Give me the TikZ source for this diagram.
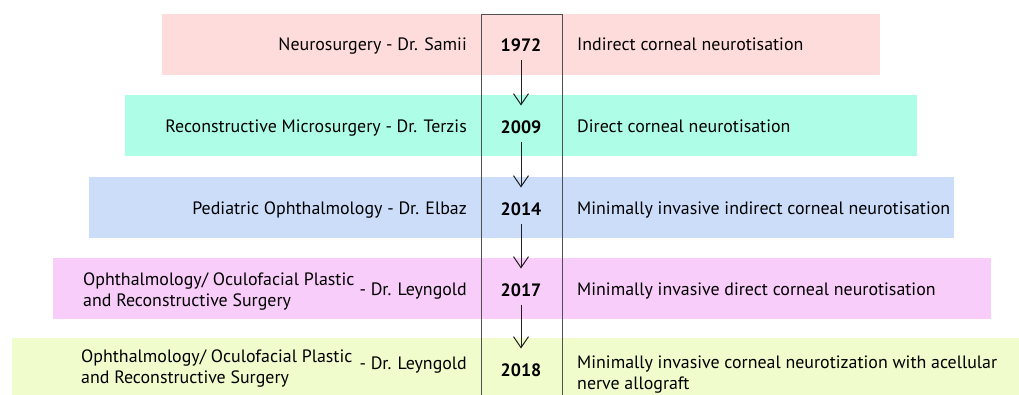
\documentclass[tikz,border=0pt]{standalone}
\usepackage{fontspec}
\setmainfont{PT Sans}
\usetikzlibrary{arrows.meta}
\definecolor{cPink}{RGB}{255,220,220}
\definecolor{cMint}{RGB}{174,253,230}
\definecolor{cBlue}{RGB}{204,221,250}
\definecolor{cMagenta}{RGB}{249,205,249}
\definecolor{cLime}{RGB}{241,252,204}
\definecolor{cFrame}{RGB}{80,80,80}
\definecolor{cArrow}{RGB}{30,30,30}
\begin{document}
\begin{tikzpicture}[x=1pt,y=-1pt,
  band/.style={rectangle, draw=none, inner sep=0pt, outer sep=0pt, anchor=north west, minimum height=61pt},
  txt/.style={inner sep=0pt, font=\fontsize{17.9}{21}\selectfont, text=black},
  lefttxt/.style={txt, anchor=mid east},
  righttxt/.style={txt, anchor=mid west},
  twoline/.style={txt, align=left, anchor=west},
  yeartxt/.style={txt, anchor=mid, font=\fontsize{17.9}{21}\selectfont\bfseries},
  arr/.style={draw=cArrow, line width=1pt, -{Straight Barb[length=11pt,width=15pt,line width=1pt]}, shorten <=8pt, shorten >=15pt}
]
\useasboundingbox (0,0) rectangle (1019,394);
\clip (0,0) rectangle (1019,394);
% bands
\node[band, fill=cPink, minimum width=718pt] (b1) at (162,14) {};
\node[band, fill=cMint, minimum width=792pt] (b2) at (125,95) {};
\node[band, fill=cBlue, minimum width=865pt] (b3) at (89,177) {};
\node[band, fill=cMagenta, minimum width=938pt] (b4) at (53,258) {};
\node[band, fill=cLime, minimum width=1018pt, minimum height=62pt] (b5) at (12,338) {};
% frame
\node[rectangle, draw=cFrame, line width=0.9pt, inner sep=0pt, anchor=north west, minimum width=81pt, minimum height=420pt] (frame) at (481,14) {};
% left texts
\node[lefttxt] (l1) at (467,48) {Neurosurgery - Dr. Samii};
\node[lefttxt] (l2) at (467,130) {Reconstructive Microsurgery - Dr. Terzis};
\node[lefttxt] (l3) at (467,212) {Pediatric Ophthalmology - Dr. Elbaz};
\node[twoline] (l4a) at (83,292) {Ophthalmology/ Oculofacial Plastic\\and Reconstructive Surgery};
\node[lefttxt] (l4b) at (467,293) {- Dr. Leyngold};
\node[twoline] (l5a) at (81,369) {Ophthalmology/ Oculofacial Plastic\\and Reconstructive Surgery};
\node[lefttxt] (l5b) at (467,367) {- Dr. Leyngold};
% years
\node[yeartxt] (y1) at (521,49) {1972};
\node[yeartxt] (y2) at (521,131) {2009};
\node[yeartxt] (y3) at (521,213) {2014};
\node[yeartxt] (y4) at (521,294) {2017};
\node[yeartxt] (y5) at (521,374) {2018};
% right texts
\node[righttxt] (r1) at (577,48) {Indirect corneal neurotisation};
\node[righttxt] (r2) at (577,130) {Direct corneal neurotisation};
\node[righttxt] (r3) at (577,212) {Minimally invasive indirect corneal neurotisation};
\node[righttxt] (r4) at (577,293) {Minimally invasive direct corneal neurotisation};
\node[twoline] (r5) at (577,375) {Minimally invasive corneal neurotization with acellular\\nerve allograft};
% arrows
\draw[arr] (y1.south) -- (y2.north);
\draw[arr] (y2.south) -- (y3.north);
\draw[arr] (y3.south) -- (y4.north);
\draw[arr] (y4.south) -- (y5.north);
\end{tikzpicture}
\end{document}
